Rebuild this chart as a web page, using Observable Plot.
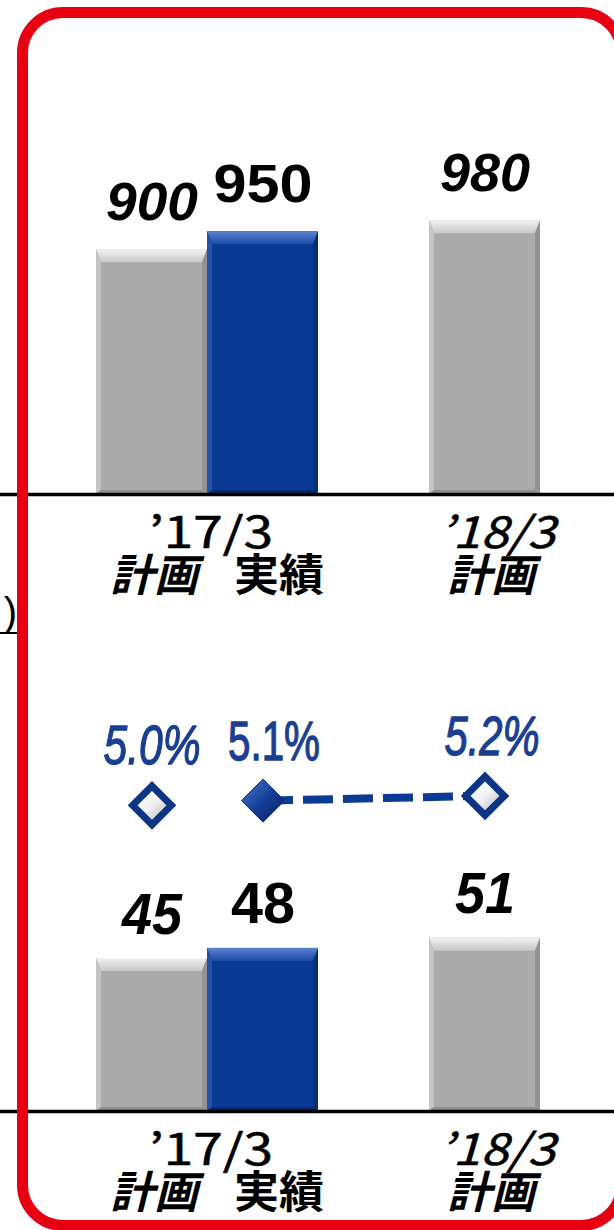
<!DOCTYPE html>
<html><head><meta charset="utf-8">
<script src="https://cdn.jsdelivr.net/npm/d3@7"></script>
<script src="https://cdn.jsdelivr.net/npm/@observablehq/plot@0.6"></script>
<style>
html,body{margin:0;padding:0;background:#fff;}
#wrap{position:relative;width:614px;height:1230px;overflow:hidden;background:#fff;}
.layer{position:absolute;left:0;}
#frame{position:absolute;left:17px;top:7px;width:610px;height:1224px;box-sizing:border-box;border:11px solid #e60012;border-radius:46px;pointer-events:none;}
#paren{position:absolute;left:-10px;top:592px;width:27px;height:40px;border-bottom:2px solid #000;font:40px "Liberation Sans",sans-serif;text-align:right;line-height:40px;color:#000;}
</style></head><body>
<div id="wrap">
<svg width="0" height="0" style="position:absolute">
<defs>
<linearGradient id="dPlan" x1="0" y1="0" x2="1" y2="1"><stop offset="0" stop-color="#ffffff"/><stop offset="0.5" stop-color="#f1f1f3"/><stop offset="1" stop-color="#a9a9b2"/></linearGradient>
<linearGradient id="dActual" x1="0" y1="0" x2="1" y2="1"><stop offset="0" stop-color="#4f7dd0"/><stop offset="0.5" stop-color="#143f98"/><stop offset="1" stop-color="#051f5c"/></linearGradient>
<linearGradient id="bevTopGray" x1="0" y1="0" x2="0" y2="1"><stop offset="0" stop-color="#f2f2f2"/><stop offset="1" stop-color="#c6c6c6"/></linearGradient>
<linearGradient id="bevTopBlue" x1="0" y1="0" x2="0" y2="1"><stop offset="0" stop-color="#5a84d0"/><stop offset="1" stop-color="#1b4aa6"/></linearGradient>
</defs></svg>
<div id="p1" class="layer" style="top:0"></div>
<div id="p2" class="layer" style="top:690px"></div>
<div id="p3" class="layer" style="top:850px"></div>
<div id="paren">)</div>
<div id="frame"></div>
</div>
<script>
// ---- data ----
const xSlots = ["17計画", "17実績", "gap", "18計画"];
const slots = ["17計画", "17実績", "18計画"];
const kinds = ["計画", "実績", "計画"];
const periods = ["’17/3", "’18/3"];
const periodSlots = ["17実績", "18計画"];
const salesValues = [900, 950, 980];
const profitValues = [45, 48, 51];
const marginValues = [5.0, 5.1, 5.2];
const salesAxis = [226, 1587];
const profitAxis = [0, 76.8];
const marginAxis = [4.26, 7.42];

const gray = "#ababab", blue = "#0b3a94", textBlue = "#1a3f92";
const rows = slots.map((s, i) => ({slot: s, kind: kinds[i], sales: salesValues[i], profit: profitValues[i], margin: marginValues[i]}));
const periodRows = periods.map((p, i) => ({slot: periodSlots[i], text: p}));

const widths = {"900":92,"950":99,"980":90,"45":60,"48":64,"51":60,"5.0%":97,"5.1%":92,"5.2%":95,"’17/3":124,"’18/3":116,"計画":88,"実績":90};
const ns = "http://www.w3.org/2000/svg";

function fit(svg) {
  svg.querySelectorAll("text").forEach(t => {
    const w = widths[t.textContent];
    if (w) { t.setAttribute("textLength", w); t.setAttribute("lengthAdjust", "spacingAndGlyphs"); }
  });
}
function bevel(svg) {
  svg.querySelectorAll('g[aria-label="bar"] rect').forEach(r => {
    const x = +r.getAttribute("x"), y = +r.getAttribute("y"), w = +r.getAttribute("width"), h = +r.getAttribute("height");
    const isBlue = r.getAttribute("fill") === blue;
    const t = 13, s = 5, b = 4;
    const P = (pts, fill) => {
      const p = document.createElementNS(ns, "polygon");
      p.setAttribute("points", pts.map(q => q.join(",")).join(" "));
      p.setAttribute("fill", fill);
      r.parentNode.appendChild(p);
    };
    P([[x,y],[x+w,y],[x+w-s,y+t],[x+s,y+t]], isBlue ? "url(#bevTopBlue)" : "url(#bevTopGray)");
    P([[x,y],[x+s,y+t],[x+s,y+h-b],[x,y+h]], isBlue ? "#2352ad" : "#c4c4c4");
    P([[x+w,y],[x+w,y+h],[x+w-s,y+h-b],[x+w-s,y+t]], isBlue ? "#082e78" : "#939393");
    P([[x,y+h],[x+s,y+h-b],[x+w-s,y+h-b],[x+w,y+h]], isBlue ? "#072a6e" : "#8f8f8f");
  });
}

const xScale = {type: "band", domain: xSlots, range: [95, 541], padding: 0, axis: null};
const kindDx = [2, 16, 6];
const periodDx = [-52, 12];
const pctDx = [0, 11, 7];

function barPanel(key, domain, height, mb, fs, vdy) {
  const marks = [
    Plot.barY(rows, {x: "slot", y1: domain[0], y2: key, fill: "kind"}),
    Plot.ruleY([domain[0]], {stroke: "#000", strokeWidth: 3.5})
  ];
  rows.forEach((r, i) => {
    marks.push(Plot.text([r], {x: "slot", y: key, text: d => String(d[key]), dy: vdy, lineAnchor: "bottom",
      fontSize: fs, fontWeight: "bold", fontStyle: r.kind === "計画" ? "italic" : "normal", fill: "#000",
      fontFamily: "Liberation Sans, Arial, sans-serif"}));
    marks.push(Plot.text([r], {x: "slot", frameAnchor: "bottom", text: "kind", dx: kindDx[i], dy: 96, lineAnchor: "bottom",
      fontSize: 44, fontWeight: "bold", fontStyle: r.kind === "計画" ? "italic" : "normal", fill: "#000",
      fontFamily: "Noto Sans CJK JP, sans-serif"}));
  });
  periodRows.forEach((p, i) => {
    marks.push(Plot.text([p], {x: "slot", frameAnchor: "bottom", text: "text", dx: periodDx[i], dy: 53, lineAnchor: "bottom",
      fontSize: 43, fontStyle: i === 0 ? "normal" : "italic", fill: "#000", stroke: "#000", strokeWidth: 0.6,
      fontFamily: "Noto Sans CJK JP, sans-serif"}));
  });
  const svg = Plot.plot({
    width: 614, height, marginTop: 0, marginBottom: mb, marginLeft: 0, marginRight: 0,
    style: {overflow: "visible", background: "transparent"},
    x: xScale,
    y: {domain, axis: null},
    color: {domain: ["計画", "実績"], range: [gray, blue]},
    marks
  });
  bevel(svg); fit(svg);
  return svg;
}

document.getElementById("p1").appendChild(barPanel("sales", salesAxis, 620, 126, 54, -30));

// margin (%) line panel
const marginMarks = [
  Plot.line(rows.slice(1), {x: "slot", y: "margin", stroke: blue, strokeWidth: 8, strokeDasharray: "30,10", strokeLinecap: "butt"}),
  Plot.dot(rows.filter(r => r.kind === "計画"), {x: "slot", y: "margin", symbol: "diamond2", r: 17.4, fill: "url(#dPlan)", stroke: "#0d3585", strokeWidth: 7}),
  Plot.dot(rows.filter(r => r.kind === "実績"), {x: "slot", y: "margin", symbol: "diamond2", r: 19.4, fill: "url(#dActual)", stroke: "#0a2f7c", strokeWidth: 1})
];
rows.forEach((r, i) => {
  marginMarks.push(Plot.text([r], {x: "slot", y: "margin", text: d => d.margin.toFixed(1) + "%", dx: pctDx[i], dy: -41, lineAnchor: "bottom",
    fontSize: 55, fontStyle: r.kind === "計画" ? "italic" : "normal", fill: textBlue, stroke: textBlue, strokeWidth: 1.3,
    fontFamily: "Liberation Sans, Arial, sans-serif"}));
});
const svg2 = Plot.plot({
  width: 614, height: 150, marginTop: 0, marginBottom: 0, marginLeft: 0, marginRight: 0,
  style: {overflow: "visible", background: "transparent"},
  x: xScale,
  y: {domain: marginAxis, axis: null},
  marks: marginMarks
});
fit(svg2);
document.getElementById("p2").appendChild(svg2);

document.getElementById("p3").appendChild(barPanel("profit", profitAxis, 380, 119, 58, -25));
</script>
</body></html>
